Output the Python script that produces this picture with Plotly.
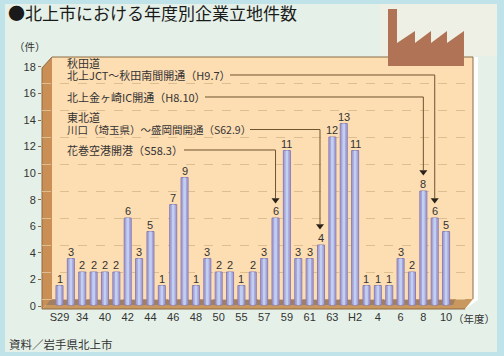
import plotly.graph_objects as go

# --- data ---
bar_values = [1,3,2,2,2,2,6,3,5,1,7,9,1,3,2,2,1,2,3,6,11,3,3,4,12,13,11,1,1,1,3,2,8,6,5]
tick_labels = ["S29","34","40","42","44","46","48","50","55","57","59","61","63","H2","4","6","8","10"]
y_ticks = [0,2,4,6,8,10,12,14,16,18]
callout_lines = ["秋田道", "北上JCT～秋田南間開通（H9.7）", "北上金ヶ崎IC開通（H8.10）",
                 "東北道", "川口（埼玉県）～盛岡間開通（S62.9）", "花巻空港開港（S58.3）"]
callout_bar = [33, 32, 23, 19]

W, H = 504, 356
L, R, T, B = 42, 473, 57, 309
FONT = "Noto Sans CJK JP"
TXT = "#333333"
BAR_FLOOR = -0.45

def X(p): return (p - L) / (R - L)
def Y(p): return (B - p) / (B - T)
def vy(p): return (299 - p) / 13.5
def ix(p): return (p - 59.5) / 11.37

def poly(pts, color, line=None, lw=0, layer="below"):
    d = "M " + " L ".join(f"{X(a):.4f} {Y(b):.4f}" for a, b in pts) + " Z"
    return dict(type="path", xref="paper", yref="paper", path=d, fillcolor=color,
                line=dict(color=line or color, width=lw), layer=layer)

def seg(pts, color, w=1, dash="solid", layer="below"):
    d = "M " + " L ".join(f"{X(a):.4f} {Y(b):.4f}" for a, b in pts)
    return dict(type="path", xref="paper", yref="paper", path=d,
                line=dict(color=color, width=w, dash=dash), layer=layer)

shapes = [
    poly([(0,0),(504,0),(504,356),(0,356)], "#BFE3E8"),
    poly([(5,4),(497,4),(497,352),(5,352)], "#E5F1E8"),
    poly([(380,4),(497,4),(497,56),(380,56)], "#EEF0E6"),
    poly([(52,57),(473,57),(473,299),(52,299)], "#FDDDB2"),
    poly([(473,57),(478,57),(478,300),(465,309),(473,299)], "#FFFFFF"),
    poly([(42,68),(52,57),(52,299),(42,309)], "#C98F55"),
    poly([(42,309),(52,299),(473,299),(465,309)], "#C9985F"),
    poly([(50,300),(455,300),(453,305),(46,305)], "#A17F60"),
    seg([(42,309),(465,309)], "#8C6A44", 1),
    seg([(42,68),(52,57),(473,57),(473,299)], "#8C6A44", 1),
    seg([(42,68),(42,309)], "#8C6A44", 1),
]
shapes.append(poly([(388,9),(397,9),(397,43),(415,31),(415,43),(431,31),(431,43),(447,31),
                    (447,43),(464,31),(464,66),(388,66)], "#B07355", layer="above"))

lead_y = [75, 97, 129.5, 150]
lead_x0 = [230, 205, 250, 184]
lead_end = [198, 170, 224, 198]
arrow_x = []
for i in range(4):
    bx = 59.5 + 11.37 * callout_bar[i]
    if i == 2:
        bx = 320
    arrow_x.append(bx)
    shapes.append(seg([(lead_x0[i], lead_y[i]), (bx, lead_y[i]), (bx, lead_end[i])], "#6E5530", 1, layer="above"))

annotations = []
line_y = [63, 75, 97, 117, 129, 150]
line_size = [11, 11, 11, 11, 10.5, 11]
for t, b, s in zip(callout_lines, line_y, line_size):
    annotations.append(dict(xref="paper", yref="paper", x=X(67), y=Y(b), text=t, showarrow=False,
                            xanchor="left", yanchor="middle", height=12, borderpad=0, borderwidth=0,
                            font=dict(family=FONT, size=s, color=TXT)))
annotations += [
    dict(xref="paper", yref="paper", x=X(6), y=Y(13), text="●北上市における年度別企業立地件数", showarrow=False,
         xanchor="left", yanchor="middle", font=dict(family=FONT, size=17, color="#1a1a1a")),
    dict(xref="paper", yref="paper", x=X(30), y=Y(47), text="（件）", showarrow=False,
         xanchor="center", yanchor="middle", font=dict(family=FONT, size=10.5, color=TXT)),
    dict(xref="paper", yref="paper", x=X(474), y=Y(318), text="（年度）", showarrow=False,
         xanchor="center", yanchor="middle", font=dict(family=FONT, size=10.5, color=TXT)),
    dict(xref="paper", yref="paper", x=X(7), y=Y(344), text="資料／岩手県北上市", showarrow=False,
         xanchor="left", yanchor="middle", font=dict(family=FONT, size=11.5, color=TXT)),
]
xs = list(range(len(bar_values)))
for i, v in zip(xs, bar_values):
    annotations.append(dict(x=i, y=v, xref="x", yref="y", text=str(v), showarrow=False, yshift=7,
                            xanchor="center", yanchor="middle",
                            font=dict(family="Liberation Sans", size=11, color=TXT)))

fig = go.Figure()
lengths = [v - BAR_FLOOR for v in bar_values]
fig.add_trace(go.Bar(x=xs, y=lengths, base=BAR_FLOOR, width=0.62,
                     marker=dict(color="#A9A4DA", line=dict(color="#8C7FB0", width=1)), showlegend=False))
fig.add_trace(go.Bar(x=xs, y=lengths, base=BAR_FLOOR, width=0.24,
                     marker=dict(color="#BFD0F0", line=dict(width=0)), showlegend=False))
fig.add_trace(go.Scatter(
    x=[ix(p) for p in arrow_x], y=[vy(200), vy(172), vy(226), vy(200)],
    mode="markers", marker=dict(symbol="triangle-down", size=7, color="#2a2218"), showlegend=False,
))
fig.add_trace(go.Scatter(x=[0], y=[0], yaxis="y2", mode="markers", marker=dict(opacity=0), showlegend=False))

fig.update_layout(
    width=W, height=H, margin=dict(l=L, r=W-R, t=T, b=H-B),
    paper_bgcolor="#E5F1E8", plot_bgcolor="rgba(0,0,0,0)", barmode="overlay",
    shapes=shapes, annotations=annotations,
    xaxis=dict(range=[ix(L), ix(R)], tickvals=xs[::2], ticktext=tick_labels, showgrid=False, zeroline=False,
               showline=False, ticks="", tickfont=dict(family="Liberation Sans", size=11, color=TXT)),
    yaxis=dict(range=[vy(B), vy(T)], tickvals=y_ticks, showticklabels=False, ticks="", zeroline=False,
               showgrid=True, gridcolor="#DDBE90", griddash="dash", gridwidth=1),
    yaxis2=dict(overlaying="y", side="left", range=[(306-B)/13.28, (306-T)/13.28], tickvals=y_ticks,
                showgrid=False, zeroline=False, ticks="outside", ticklen=3, tickcolor="#8C6A44",
                tickfont=dict(family="Liberation Sans", size=11, color=TXT)),
)
fig.write_html("out.html", config=dict(displayModeBar=False),
               post_script="document.body.style.margin='0';document.documentElement.style.overflow='hidden';")
